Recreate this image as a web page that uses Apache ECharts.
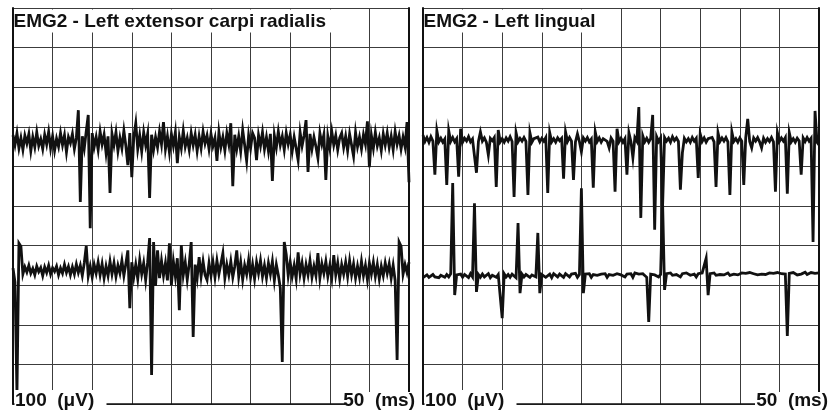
<!DOCTYPE html>
<html>
<head>
<meta charset="utf-8">
<script src="https://cdn.jsdelivr.net/npm/echarts@6/dist/echarts.min.js"></script>
<style>
  html, body { margin: 0; padding: 0; background: #fff; }
  #main { width: 829px; height: 412px; }
</style>
</head>
<body>
<div id="main"></div>
<script>
// panel titles and scale labels
const titles = ['EMG2 - Left extensor carpi radialis', 'EMG2 - Left lingual'];
const ampLabel = '100  (μV)';
const timeLabel = '50  (ms)';

// one sample every 0.25 ms over the 50 ms sweep
const stepMs = 0.25;

// trace baselines in µV (screen is -500..500, 100 µV per division)
const leftBase = [164, -162];
const rightBase = [167, -177];

// samples in µV relative to the trace baseline
const leftTop = [
  15, -10, 20, -18, 8, -22, 14, -6, 18, -25,
  10, -15, 22, -12, 5, -20, 16, -8, 23, -18,
  12, -24, 6, -14, 20, -10, 15, -28, 10, -5,
  18, -20, 8, 78, -154, 12, -18, 25, 66, -220,
  20, -15, 10, -22, 24, -8, 16, -30, 12, -131,
  18, -10, 22, -25, 8, -18, 26, -12, -61, 20,
  -91, 10, 45, -20, 14, -26, 22, -10, 18, -144,
  16, -22, 10, -16, 24, -8, 48, -20, 12, -28,
  18, -12, 22, -56, 10, -18, 26, -14, 8, -22,
  20, -10, 16, -25, 12, -18, 24, -6, 14, -20,
  18, -12, 8, -50, 22, -15, 10, -24, 20, -8,
  45, -114, 16, -20, 12, -26, 28, -10, -50, 14,
  -18, 20, 8, -48, 15, -12, 22, -20, 10, -25,
  18, -101, 14, -16, 24, -10, 12, -22, 20, -8,
  16, -26, 10, -18, -48, 22, -12, 14, 53, -78,
  18, -20, 10, -14, -43, 20, -8, 16, -98, 12,
  -18, 24, -10, 14, -22, 8, 20, -16, 12, -24,
  18, -10, -38, 22, -14, 10, -20, 16, -8, 50,
  -66, 14, -18, 22, -12, 8, -24, 18, -10, 20,
  -16, 12, -22, 24, -8, 14, -20, 10, -14, 48,
  -104
];
const leftBottom = [
  5, -30, -311, 68, 60, -10, 8, -5, 12, -8,
  4, -12, 10, -4, 6, -14, 8, -6, 12, -10,
  6, -3, 10, -12, 5, -8, 14, -6, 9, -12,
  8, -10, 15, -6, 12, -14, 18, 61, -15, 10,
  -18, 14, -8, 20, -12, 16, -20, 10, -14, 22,
  -10, 18, -16, 12, -8, 24, -14, 16, 50, -96,
  20, -18, 14, -22, 26, -10, 18, -25, 20, 81,
  -265, 71, -40, 50, -20, 24, -14, 18, -26, 68,
  -38, 22, -16, 30, -101, 63, -12, 20, -24, 16,
  71, -169, 14, -20, 33, -16, 22, -12, -25, 18,
  -14, 20, -18, 24, -10, 16, 43, -20, 14, -12,
  22, -18, 10, 50, -16, 20, -24, 12, -10, 26,
  -18, 14, -22, 20, -8, 24, -16, 12, -20, 18,
  -10, 22, -26, 14, -12, -45, -232, 71, 40, -14,
  20, -16, 12, -22, 45, -10, 18, -20, 14, -12,
  24, -18, 10, -14, 43, -20, 16, -8, 22, -16,
  12, -20, 38, -12, 18, -22, 14, -10, 20, -16,
  24, -12, 16, -20, 10, -18, 22, -14, 12, -24,
  18, -10, 20, -16, 14, -22, 10, -14, 18, -8,
  16, -20, 12, -26, -227, 71, 60, -10, 14, -6,
  20
];
const rightTop = [
  12, -4, 6, -6, 8, -3, -88, 23, -5, 4,
  -6, 2, -114, 23, -4, 6, -5, 3, -93, 28,
  -6, 4, -3, 8, -5, 2, 6, -83, -4, 20,
  -3, 5, -6, -38, 4, -2, 6, -119, 25, -5,
  3, -6, 5, -3, 8, -4, -144, 18, -5, 4,
  -3, 6, -4, -139, 18, -6, 3, -2, 7, -5,
  4, -3, 6, -134, 18, -5, 3, -6, 5, -2,
  4, -98, 20, -4, 6, -3, -101, -5, 15, -4,
  -30, 5, -3, 6, -5, 2, -121, 20, -4, 5,
  -6, 3, 8, -4, -20, 5, -3, -131, 28, -5,
  4, -6, 3, -88, 18, -4, -45, 6, -3, 83,
  -197, 10, -5, 4, -6, 3, 63, -227, 8, -4,
  5, -168, 6, -3, 4, -6, 8, -2, 5, -4,
  -126, -33, 4, -5, 3, -6, 6, -3, 4, -96,
  15, -4, 5, -6, 3, -2, 6, -5, -119, 18,
  -4, 5, -3, 6, -5, -139, 20, -4, 3, -6,
  5, -3, -114, 6, 53, -4, -20, 5, -3, 6,
  -5, -20, 4, -6, 3, -4, 6, -5, -131, 18,
  -4, 5, -3, 6, -136, 18, -5, 3, -6, 4,
  -3, -88, 5, -4, 6, -3, 4, -258, 73, -6,
  -13
];
const rightBottom = [
  -4, -2, 3, -3, 2, 4, -2, 3, -4, 2,
  5, -3, 4, -2, 6, 235, -48, 3, -2, 5,
  -3, 4, 2, -4, 6, -2, 184, -40, 4, -3,
  5, -2, 3, 6, -4, 2, 5, -3, 4, 2,
  -106, 6, -2, 4, -3, 5, 2, -4, 134, -43,
  5, -2, 4, 6, -3, 3, 5, -2, 109, -43,
  4, 6, -3, 2, 5, -4, 6, 3, -2, 5,
  4, -3, 6, 2, -2, 5, 3, 7, -3, 4,
  222, -43, 5, 2, 6, -3, 4, 7, 2, -2,
  5, 3, 6, -3, 4, 7, 2, -2, 6, 4,
  3, 7, -2, 5, 4, 6, -3, 8, 3, 5,
  2, 6, 4, -3, -116, 5, 7, 3, 6, -2,
  4, 187, -35, 6, 3, 8, 2, 5, 4, 7,
  -2, 6, 3, 8, 4, 2, 7, 5, -2, 6,
  4, 8, 3, 45, -48, 6, 5, 8, 2, 7,
  4, 9, 3, 6, 8, 2, 7, 5, 9, 3,
  6, 8, 4, 7, 2, 9, 5, 6, 8, 3,
  7, 5, 9, 4, 6, 8, 3, 7, 5, 9,
  4, 6, 8, 5, -151, 7, 4, 9, 6, 3,
  8, 5, 7, 10, 4, 6, 9, 5, 7, 4,
  8
];

const panels = [
  { left: 13, traces: [leftTop, leftBottom], base: leftBase, width: 2.8 },
  { left: 423, traces: [rightTop, rightBottom], base: rightBase, width: 2.8 }
];

const gridLine = { color: '#3c3c3c', width: 1 };
const ink = '#111';
const font = 'bold 19px "Liberation Sans", Arial, sans-serif';

const grids = [], xAxes = [], yAxes = [], series = [], graphics = [];

panels.forEach((p, k) => {
  grids.push({ left: p.left, top: 8, width: 396, height: 396 });
  xAxes.push({
    gridIndex: k, type: 'value', min: 0, max: 50, interval: 5,
    axisLabel: { show: false }, axisTick: { show: false },
    axisLine: { show: true, onZero: false, lineStyle: { color: ink, width: 1.5 } },
    splitLine: { show: true, lineStyle: gridLine }
  });
  yAxes.push({
    gridIndex: k, type: 'value', min: -500, max: 500, interval: 100,
    axisLabel: { show: false }, axisTick: { show: false },
    axisLine: { show: true, onZero: false, lineStyle: { color: ink, width: 2 } },
    splitLine: { show: true, lineStyle: gridLine }
  });
  yAxes.push({
    gridIndex: k, type: 'value', position: 'right', min: -500, max: 500, interval: 100,
    axisLabel: { show: false }, axisTick: { show: false },
    axisLine: { show: true, onZero: false, lineStyle: { color: ink, width: 2 } },
    splitLine: { show: false }
  });
  p.traces.forEach((tr, j) => {
    series.push({
      type: 'line', xAxisIndex: k, yAxisIndex: k * 2,
      showSymbol: false, symbol: 'none', animation: false,
      lineStyle: { color: ink, width: p.width, join: 'miter' },
      data: tr.map((v, i) => [i * stepMs, p.base[j] + v])
    });
  });

  const x0 = p.left;
  const x1 = p.left + 396;
  // white boxes under the texts hide the grid like on the printout
  graphics.push(
    { type: 'rect', z: 100, shape: { x: x0 + 1, y: 9.5, width: k ? 178 : 322, height: 23 }, style: { fill: '#fff' } },
    { type: 'rect', z: 100, shape: { x: x0 + 1.5, y: 390, width: 92, height: 22 }, style: { fill: '#fff' } },
    { type: 'rect', z: 100, shape: { x: x1 - 64, y: 392, width: 74, height: 20 }, style: { fill: '#fff' } },
    { type: 'text', z: 101, x: x0 + 0.5, y: 21.5, style: { text: titles[k], font: font, fill: ink, textAlign: 'left', textVerticalAlign: 'middle' } },
    { type: 'text', z: 101, x: x0 + 2, y: 401, style: { text: ampLabel, font: font, fill: ink, textAlign: 'left', textVerticalAlign: 'middle' } },
    { type: 'text', z: 101, x: x1 + (k ? 9 : 6), y: 401, style: { text: timeLabel, font: font, fill: ink, textAlign: 'right', textVerticalAlign: 'middle' } }
  );
});

const chart = echarts.init(document.getElementById('main'));
chart.setOption({
  backgroundColor: '#fff',
  animation: false,
  grid: grids,
  xAxis: xAxes,
  yAxis: yAxes,
  series: series,
  graphic: graphics
});
</script>
</body>
</html>
